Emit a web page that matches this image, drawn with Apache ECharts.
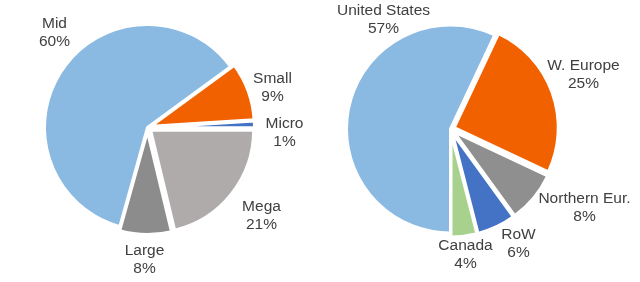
<!DOCTYPE html>
<html>
<head>
<meta charset="utf-8">
<script src="https://cdn.jsdelivr.net/npm/echarts@6/dist/echarts.min.js"></script>
<style>
html, body { margin: 0; padding: 0; background: #fff; }
#chart { width: 640px; height: 282px; }
</style>
</head>
<body>
<div id="chart"></div>
<script>
const sizeNames = ['Mid', 'Small', 'Micro', 'Mega', 'Large'];
const sizeValues = [60, 9, 1, 21, 8];
const regionNames = ['United States', 'W. Europe', 'Northern Eur.', 'RoW', 'Canada'];
const regionValues = [57, 25, 8, 6, 4];

const sizeColors = ['#8AB9E2', '#F26100', '#4472C4', '#AFABAB', '#8C8C8C'];
const regionColors = ['#8AB9E2', '#F26100', '#8F8F8F', '#4472C4', '#A9D18E'];

// label centres, as offsets from each pie centre
const sizeLabelOffsets = [[-93, -95], [125, -40], [137, 5], [114, 88], [-3, 132]];
const regionLabelOffsets = [[-67, -109], [133, -54], [134, 79], [68, 115], [15, 126]];

// slices: the big one stays put, the others are pulled out a little
function slices(names, values, colors, center, radius, startAngle) {
    return {
        type: 'pie',
        center: center,
        radius: radius,
        startAngle: startAngle,
        clockwise: true,
        selectedMode: 'multiple',
        selectedOffset: 4,
        animation: false,
        itemStyle: { borderColor: '#fff', borderWidth: 3 },
        select: { itemStyle: { borderColor: '#fff', borderWidth: 3 } },
        emphasis: { disabled: true },
        label: { show: false },
        labelLine: { show: false },
        data: names.map((n, i) => ({
            name: n,
            value: values[i],
            selected: i > 0,
            itemStyle: { color: colors[i] }
        }))
    };
}

// same pie, see-through, only to carry the labels
function labels(names, values, center, radius, startAngle, offsets) {
    return {
        type: 'pie',
        center: center,
        radius: radius,
        startAngle: startAngle,
        clockwise: true,
        silent: true,
        animation: false,
        avoidLabelOverlap: false,
        itemStyle: { color: 'rgba(0,0,0,0)', borderWidth: 0 },
        emphasis: { disabled: true },
        label: {
            show: true,
            position: 'outside',
            formatter: '{b}\n{c}%',
            color: '#404040',
            fontFamily: 'Liberation Sans, Arial, sans-serif',
            fontSize: 15.5,
            lineHeight: 18
        },
        labelLine: { show: false },
        labelLayout: p => ({
            x: center[0] + offsets[p.dataIndex][0],
            y: center[1] + offsets[p.dataIndex][1],
            align: 'center',
            verticalAlign: 'middle'
        }),
        data: names.map((n, i) => ({ name: n, value: values[i] }))
    };
}

const leftCenter = [147.5, 127.5];
const rightCenter = [450.5, 129];

const chart = echarts.init(document.getElementById('chart'));
chart.setOption({
    backgroundColor: '#fff',
    series: [
        slices(sizeNames, sizeValues, sizeColors, leftCenter, 103, 254.4),
        slices(regionNames, regionValues, regionColors, rightCenter, 104, 270),
        labels(sizeNames, sizeValues, leftCenter, 103, 254.4, sizeLabelOffsets),
        labels(regionNames, regionValues, rightCenter, 104, 270, regionLabelOffsets)
    ]
});
</script>
</body>
</html>
